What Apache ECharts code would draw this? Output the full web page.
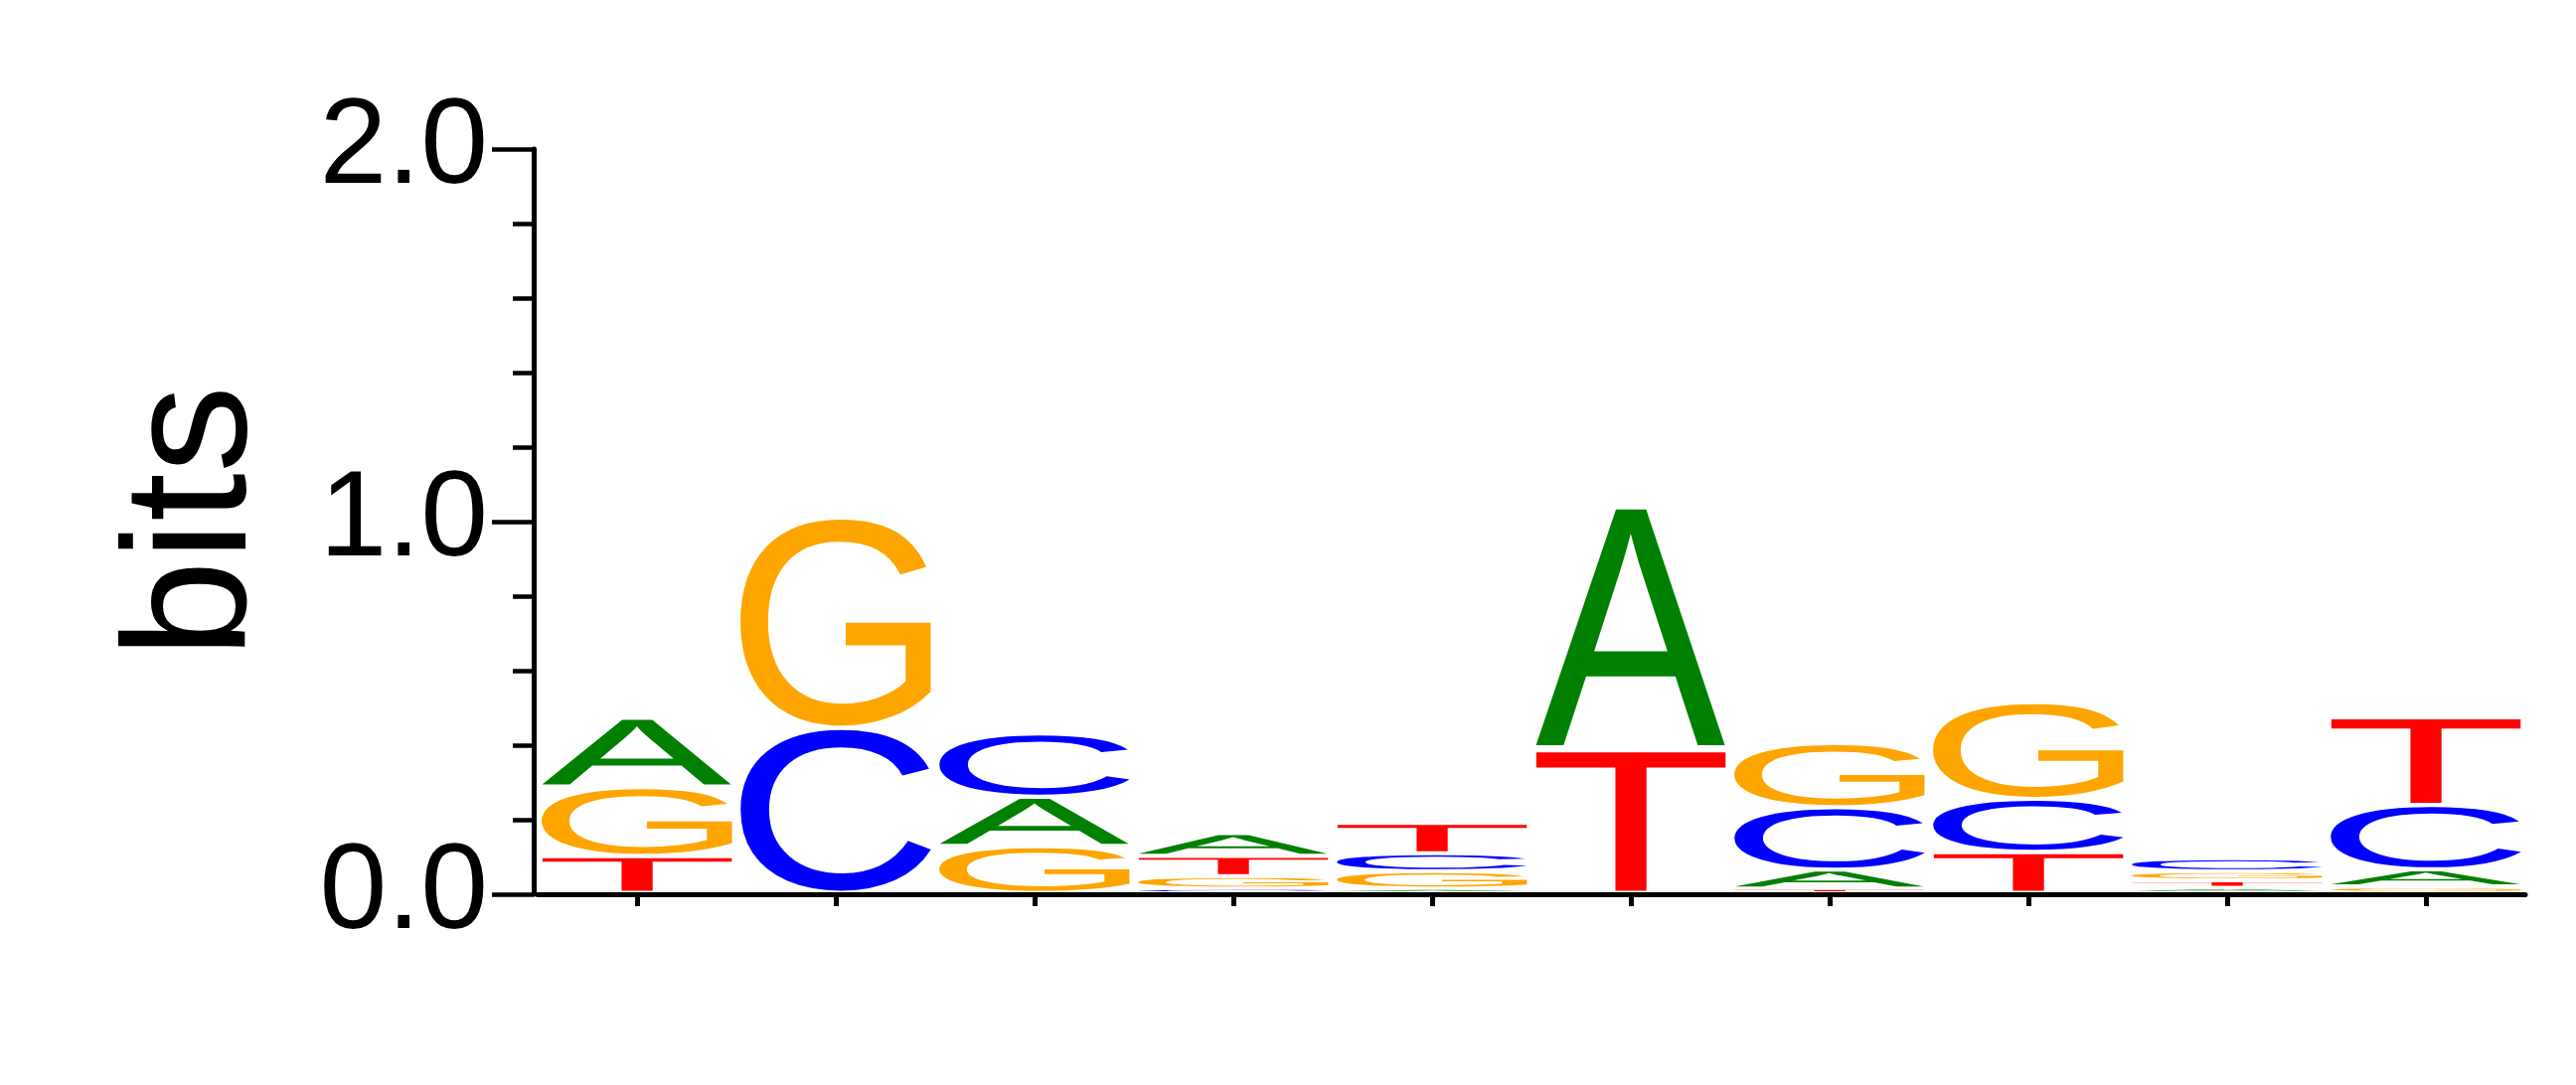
<!DOCTYPE html>
<html style="height: 100%">

<head>
    <meta charset="utf-8">
    <script src="https://cdn.jsdelivr.net/npm/echarts/dist/echarts.min.js"></script>
</head>

<body style="height: 100%; margin: 0; background: #fff">
    <div id="logo" style="width: 2592px; height: 1092px"></div>
    <script type="text/javascript">
        // positions 1..10, information (bits) per base
        var positions = ['1', '2', '3', '4', '5', '6', '7', '8', '9', '10'];
        var bases = ['A', 'C', 'G', 'T'];
        var bitsA = [0.186, 0, 0.133, 0.061, 0.015, 0.650, 0.051, 0, 0.018, 0.046];
        var bitsC = [0, 0.447, 0.170, 0.015, 0.048, 0, 0.168, 0.142, 0.035, 0.173];
        var bitsG = [0.185, 0.565, 0.129, 0.034, 0.047, 0, 0.172, 0.260, 0.025, 0.021];
        var bitsT = [0.103, 0, 0, 0.054, 0.082, 0.390, 0.015, 0.114, 0.019, 0.237];
        var yTicks = [0, 1, 2];

        var colors = {A: '#008000', C: '#0000ff', G: '#ffa500', T: '#ff0000'};
        var FONT = '200px "Liberation Sans"';

        // ink box of each letter, relative to a middle baseline
        var ctx = document.createElement('canvas').getContext('2d');
        ctx.font = FONT;
        ctx.textBaseline = 'middle';
        ctx.textAlign = 'left';
        var metrics = {};
        bases.forEach(function (b) {
            var m = ctx.measureText(b);
            metrics[b] = {
                l: m.actualBoundingBoxLeft,
                a: m.actualBoundingBoxAscent,
                w: m.actualBoundingBoxLeft + m.actualBoundingBoxRight,
                h: m.actualBoundingBoxAscent + m.actualBoundingBoxDescent
            };
        });

        // stack letters, smallest at the bottom
        var table = {A: bitsA, C: bitsC, G: bitsG, T: bitsT};
        var stacks = [];
        for (var i = 0; i < positions.length; i++) {
            var col = bases.map(function (b) {
                return {b: b, v: table[b][i]};
            }).filter(function (d) {
                return d.v > 0;
            }).sort(function (p, q) {
                return p.v - q.v;
            });
            var y = 0;
            col.forEach(function (d) {
                stacks.push([i, y, y + d.v, bases.indexOf(d.b)]);
                y += d.v;
            });
        }

        function renderItem(params, api) {
            var b = bases[api.value(3)];
            var p0 = api.coord([api.value(0), api.value(1)]);
            var p1 = api.coord([api.value(0), api.value(2)]);
            var bw = api.size([1, 0])[0] * 0.96;
            var pad = Math.min(2, (p0[1] - p1[1]) * 0.25);
            var top = p1[1] + pad;
            var bottom = p0[1] - pad - (api.value(1) === 0 ? 1.5 : 0);
            var left = p0[0] - bw / 2;
            var m = metrics[b];
            var sx = bw / m.w;
            var sy = (bottom - top) / m.h;
            return {
                type: 'text',
                x: left + m.l * sx,
                y: top + m.a * sy,
                scaleX: sx,
                scaleY: sy,
                style: {
                    text: b,
                    x: 0,
                    y: 0,
                    font: FONT,
                    fill: colors[b],
                    align: 'left',
                    verticalAlign: 'middle'
                }
            };
        }

        var myChart = echarts.init(document.getElementById('logo'));
        myChart.setOption({
            animation: false,
            grid: {left: 541, right: 51, top: 150, bottom: 192},
            xAxis: {
                type: 'category',
                data: positions,
                boundaryGap: true,
                axisLine: {lineStyle: {color: '#000', width: 5}},
                axisTick: {show: true, interval: 0, alignWithLabel: true, length: 12, lineStyle: {color: '#000', width: 5}},
                axisLabel: {show: false},
                splitLine: {show: false}
            },
            yAxis: {
                type: 'value',
                min: yTicks[0],
                max: yTicks[yTicks.length - 1],
                interval: 1,
                offset: 4,
                name: 'bits',
                nameLocation: 'middle',
                nameRotate: 90,
                nameGap: 251,
                nameTextStyle: {fontFamily: 'Liberation Sans', fontSize: 176, color: '#000'},
                axisLine: {show: true, lineStyle: {color: '#000', width: 5}},
                axisTick: {show: true, length: 42, lineStyle: {color: '#000', width: 4.5}},
                minorTick: {show: true, splitNumber: 5, length: 21, lineStyle: {color: '#000', width: 4.5}},
                axisLabel: {
                    margin: 46,
                    fontFamily: 'Liberation Sans',
                    fontSize: 122,
                    color: '#000',
                    formatter: function (v) {
                        return v.toFixed(1);
                    }
                },
                splitLine: {show: false},
                minorSplitLine: {show: false}
            },
            series: [{
                type: 'custom',
                renderItem: renderItem,
                encode: {x: 0, y: [1, 2]},
                data: stacks
            }]
        });
    </script>
</body>

</html>
